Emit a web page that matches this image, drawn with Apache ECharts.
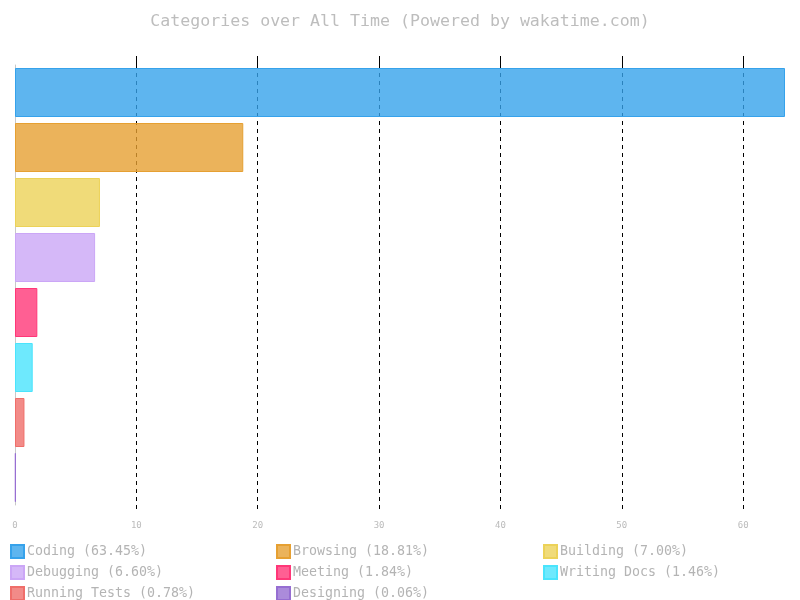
<!DOCTYPE html>
<html>
<head>
<meta charset="utf-8">
<script src="https://cdn.jsdelivr.net/npm/echarts@6/dist/echarts.min.js"></script>
<style>html,body{margin:0;padding:0;background:#fff}#c{width:800px;height:600px}</style>
</head>
<body>
<div id="c"></div>
<script>
const categories = ['Coding','Browsing','Building','Debugging','Meeting','Writing Docs','Running Tests','Designing'];
const values = [63.45, 18.81, 7.00, 6.60, 1.84, 1.46, 0.78, 0.06];
const xTicks = [0, 10, 20, 30, 40, 50, 60];

const fills = ['rgba(54,162,235,0.8)','rgba(230,160,50,0.8)','rgba(236,210,88,0.8)','rgba(203,166,246,0.8)','rgba(255,55,120,0.8)','rgba(74,228,252,0.8)','rgba(239,110,106,0.8)','rgba(150,110,210,0.8)'];
const borders = ['rgb(54,162,235)','rgb(230,160,50)','rgb(236,210,88)','rgb(203,166,246)','rgb(255,55,120)','rgb(74,228,252)','rgb(239,110,106)','rgb(150,110,210)'];

const font = "'DejaVu Sans Mono', monospace";
const chart = echarts.init(document.getElementById('c'));

const series = categories.map((name, i) => ({
  name: name,
  type: 'bar',
  stack: 'all',
  barWidth: 49,
  itemStyle: { color: fills[i], borderColor: borders[i], borderWidth: 1 },
  data: categories.map((c, j) => j === i ? values[i] : '-')
}));

const fmt = n => { const i = categories.indexOf(n); return n + ' (' + values[i].toFixed(2) + '%)'; };
const legendBase = {
  orient: 'vertical', top: 544, height: 80, padding: 0, itemWidth: 13, itemHeight: 13, itemGap: 6,
  textStyle: { fontFamily: font, fontSize: 13.3, color: '#b4b4b4', padding: [0, 0, 0, -2] },
  formatter: fmt, selectedMode: false,
  icon: 'rect'
};
const innerTicks = xTicks.filter(v => v > 0);

chart.setOption({
  animation: false,
  title: {
    text: 'Categories over All Time (Powered by wakatime.com)',
    left: 'center', top: 8,
    textStyle: { fontFamily: font, fontSize: 16.6, fontWeight: 'normal', color: '#bdbdbd' }
  },
  legend: [
    Object.assign({}, legendBase, { left: 10, data: [categories[0], categories[3], categories[6]] }),
    Object.assign({}, legendBase, { left: 276, data: [categories[1], categories[4], categories[7]] }),
    Object.assign({}, legendBase, { left: 543, data: [categories[2], categories[5]] })
  ],
  grid: { left: 15, right: 15, top: 65, bottom: 95, containLabel: false },
  xAxis: [{
    type: 'value', min: 0, max: 63.45, interval: 10, position: 'bottom',
    axisLine: { show: false },
    axisTick: { show: true, length: 8, customValues: innerTicks, lineStyle: { color: '#000', type: [4, 4] } },
    axisLabel: { fontFamily: font, fontSize: 9, color: '#bbbbbb', margin: 16, customValues: xTicks },
    splitLine: { show: true, lineStyle: { color: '#000', type: [4, 4], width: 1 } }
  }, {
    type: 'value', min: 0, max: 63.45, interval: 10, position: 'top',
    axisLine: { show: false },
    axisTick: { show: true, length: 9, customValues: innerTicks, lineStyle: { color: '#000' } },
    axisLabel: { show: false },
    splitLine: { show: false }
  }],
  yAxis: {
    type: 'category', data: categories, inverse: true,
    axisLine: { show: true, lineStyle: { color: '#c8c8c8' } },
    axisTick: { show: false },
    axisLabel: { show: false }
  },
  series: series
});
</script>
</body>
</html>
